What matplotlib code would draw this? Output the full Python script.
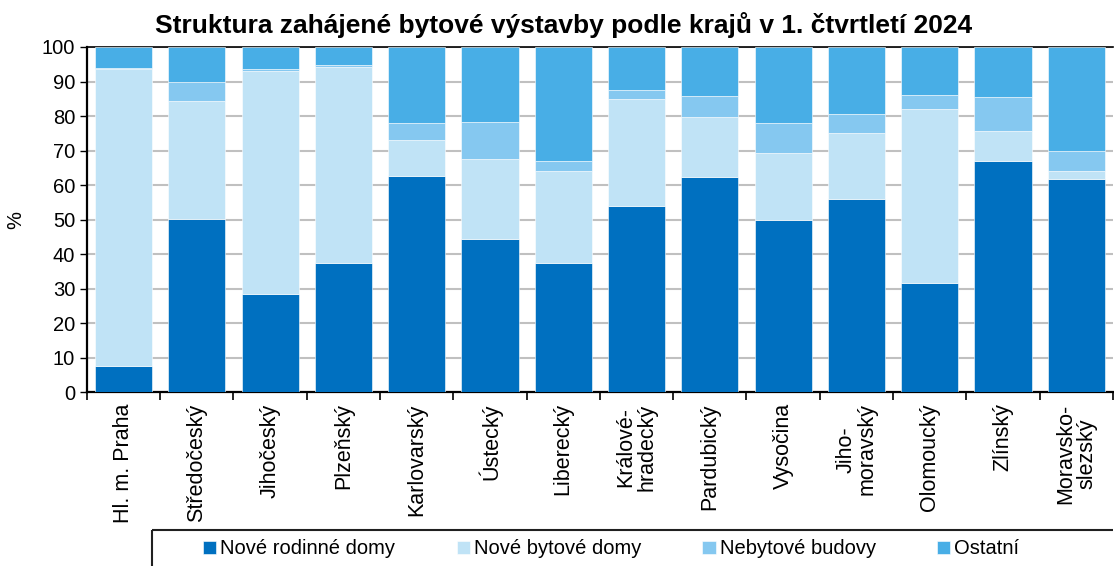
import matplotlib.pyplot as plt
from matplotlib.lines import Line2D
import numpy as np

plt.rcParams['font.family'] = ['Liberation Sans', 'DejaVu Sans']

# kraje
kraje = ["Hl. m. Praha", "Středočeský", "Jihočeský", "Plzeňský", "Karlovarský",
         "Ústecký", "Liberecký", "Králové-\nhradecký", "Pardubický", "Vysočina",
         "Jiho-\nmoravský", "Olomoucký", "Zlínský", "Moravsko-\nslezský"]

# podily v % (odhad z grafu)
rodinne = [7.5, 50.3, 28.5, 37.5, 62.5, 44.4, 37.5, 53.8, 62.2, 49.8, 56.0, 31.5, 67.1, 61.8]
bytove = [86.1, 34.0, 64.6, 56.7, 10.5, 23.2, 26.6, 31.2, 17.6, 19.4, 19.1, 50.4, 8.6, 2.4]
nebytove = [0.2, 5.5, 0.5, 0.5, 5.0, 10.6, 2.9, 2.6, 6.0, 8.8, 5.6, 4.2, 9.8, 5.7]
ostatni = [100 - a - b - c for a, b, c in zip(rodinne, bytove, nebytove)]

serie = [("Nové rodinné domy", rodinne, "#0070c0"),
         ("Nové bytové domy", bytove, "#c0e3f6"),
         ("Nebytové budovy", nebytove, "#85c8f0"),
         ("Ostatní", ostatni, "#48aee6")]

fig = plt.figure(figsize=(11.14, 5.66), dpi=100)
ax = fig.add_axes([0.078, 0.307, 0.921, 0.61])

x = np.arange(len(kraje))
spod = np.zeros(len(kraje))
for nazev, hodnoty, barva in serie:
    ax.bar(x, hodnoty, 0.78, bottom=spod, color=barva, label=nazev, zorder=3,
           edgecolor="white", linewidth=0.4)
    spod += np.array(hodnoty)

ax.set_xlim(-0.5, len(kraje) - 0.5)
ax.set_ylim(0, 100)
ax.set_yticks(range(0, 101, 10))
ax.tick_params(axis="y", labelsize=14.5, length=5, width=1)
ax.set_xticks(x)
ax.set_xticklabels(kraje, rotation=90, fontsize=15.5, va="top", ha="center",
                   multialignment="center", linespacing=1.0)
ax.tick_params(axis="x", length=0, pad=8)
ax.set_xticks(np.arange(-0.5, len(kraje), 1), minor=True)
ax.tick_params(axis="x", which="minor", length=6, width=1.2)
ax.grid(axis="y", color="#c0c0c0", linewidth=1.5, zorder=0)
for s in ["left", "bottom"]:
    ax.spines[s].set_linewidth(1.6)
ax.spines["top"].set_linewidth(1.2)
ax.spines["right"].set_visible(False)

ax.set_ylabel("%", fontsize=14.5, labelpad=12)
ax.set_title("Struktura zahájené bytové výstavby podle krajů v 1. čtvrtletí 2024",
             fontsize=19, fontweight="bold", pad=10, x=0.465)

# ramecek legendy (presahuje pravy a dolni okraj jako v originalu)
x0, y0 = 152 / 1114, 1 - 529.5 / 566
fig.add_artist(Line2D([x0, 0.999], [y0, y0], color="#202020", linewidth=1.5,
                      transform=fig.transFigure, solid_capstyle="butt"))
fig.add_artist(Line2D([x0, x0], [y0, 0.0], color="#202020", linewidth=1.5,
                      transform=fig.transFigure, solid_capstyle="butt"))
fig.legend(loc="center left", bbox_to_anchor=(203 / 1114, 1 - 549 / 566), ncol=4,
           fontsize=14.5, frameon=False, handlelength=0.65, handleheight=0.65,
           handletextpad=0.2, columnspacing=3.05, borderpad=0, borderaxespad=0)

fig.savefig("out.png", dpi=100)
